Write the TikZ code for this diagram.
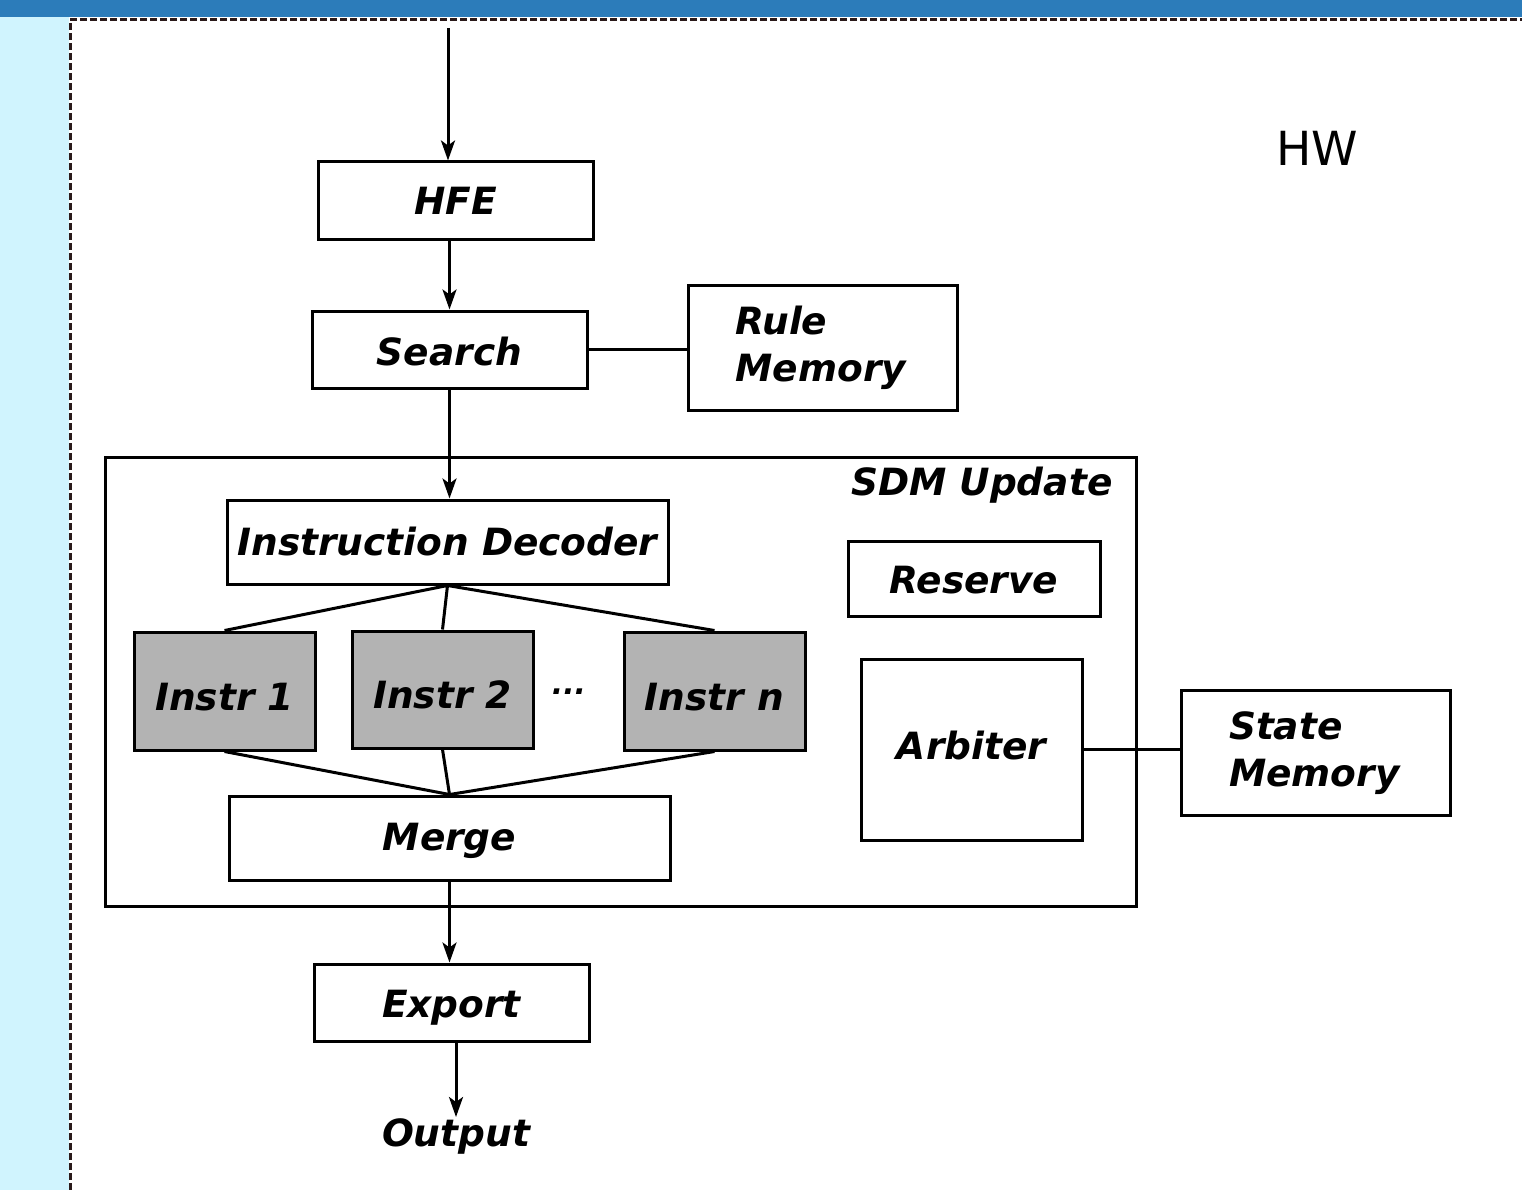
\documentclass[tikz,border=0pt]{standalone}
\usepackage{fontspec}
\setmainfont{DejaVu Sans}
\usetikzlibrary{arrows.meta}
\definecolor{barblue}{HTML}{2C7CBA}
\definecolor{sideblue}{HTML}{D0F4FE}
\definecolor{instrgray}{HTML}{B3B3B3}
\definecolor{framedark}{HTML}{2A1A1A}
\begin{document}
\begin{tikzpicture}[>={Stealth[length=20pt,width=14pt,inset=5pt]},x=1pt,y=-1pt,line width=3pt,
	lbl/.style={inner sep=0pt,font=\fontsize{37.5}{47}\selectfont\bfseries\itshape},
	box/.style={lbl,draw},
	mem/.style={box,minimum width=269pt,minimum height=125pt,text width=174pt,align=left},
	instr/.style={box,fill=instrgray,minimum width=181pt,minimum height=118pt,text height=39pt}]
	\useasboundingbox (0,0) rectangle (1522,1190);
	\fill[sideblue] (0,17) rectangle (69,1190);
	\fill[barblue] (0,0) rectangle (1522,17);
	\draw[framedark,line width=3pt,dash pattern=on 7pt off 3pt] (70,1190)--(70,20)--(1522,20);
	\node[font=\fontsize{47}{50}\selectfont] (hw) at (1317,148) {HW};
	\node[box,minimum width=1031pt,minimum height=449pt] (sdm) at (620.5,681.5) {};
	\node[lbl,anchor=east] (sdmlbl) at (1114,485) {SDM Update};
	\node[box,minimum width=275pt,minimum height=78pt] (hfe) at (455.5,201) {HFE};
	\node[box,minimum width=275pt,minimum height=77pt,text height=32pt] (search) at (449.5,349.5) {Search};
	\node[mem] (rulemem) at (822.5,348) {Rule\\Memory};
	\node[box,minimum width=441pt,minimum height=84pt] (decoder) at (447.5,542) {Instruction Decoder};
	\node[box,minimum width=252pt,minimum height=75pt,text height=31pt] (reserve) at (974,578.5) {Reserve};
	\node[instr] (instr1) at (224.5,691) {Instr 1};
	\node[instr,minimum height=117pt] (instr2) at (442.5,689.5) {Instr 2};
	\node[lbl,font=\fontsize{30}{30}\selectfont\bfseries\itshape] (dots) at (569,692) {...};
	\node[instr] (instrn) at (714.5,691) {Instr n};
	\node[box,minimum width=441pt,minimum height=84pt,text height=33pt] (merge) at (449.5,838) {Merge};
	\node[box,minimum width=221pt,minimum height=181pt,text depth=8pt] (arbiter) at (971.5,749.5) {Arbiter};
	\node[mem] (statemem) at (1316,753) {State\\Memory};
	\node[box,minimum width=275pt,minimum height=77pt,text height=37pt] (export) at (451.5,1002.5) {Export};
	\node[lbl,anchor=north] (output) at (456,1117) {Output};
	\coordinate (feed) at (448,28);
	\draw[->] (feed)--(feed |- hfe.north);
	\draw[->] (search.north |- hfe.south)--(search.north);
	\draw (search.east)--(search.east -| rulemem.west);
	\draw[->] (search.south)--(search.south |- decoder.north);
	\draw (instr1.north)--(decoder.south)--(instrn.north) (decoder.south)--(instr2.north);
	\draw (instr1.south)--(merge.north)--(instrn.south) (merge.north)--(instr2.south);
	\draw[->] (merge.south)--(merge.south |- export.north);
	\draw[->] (output.north |- export.south)--(output.north);
	\draw (arbiter.east)--(arbiter.east -| statemem.west);
\end{tikzpicture}
\end{document}
